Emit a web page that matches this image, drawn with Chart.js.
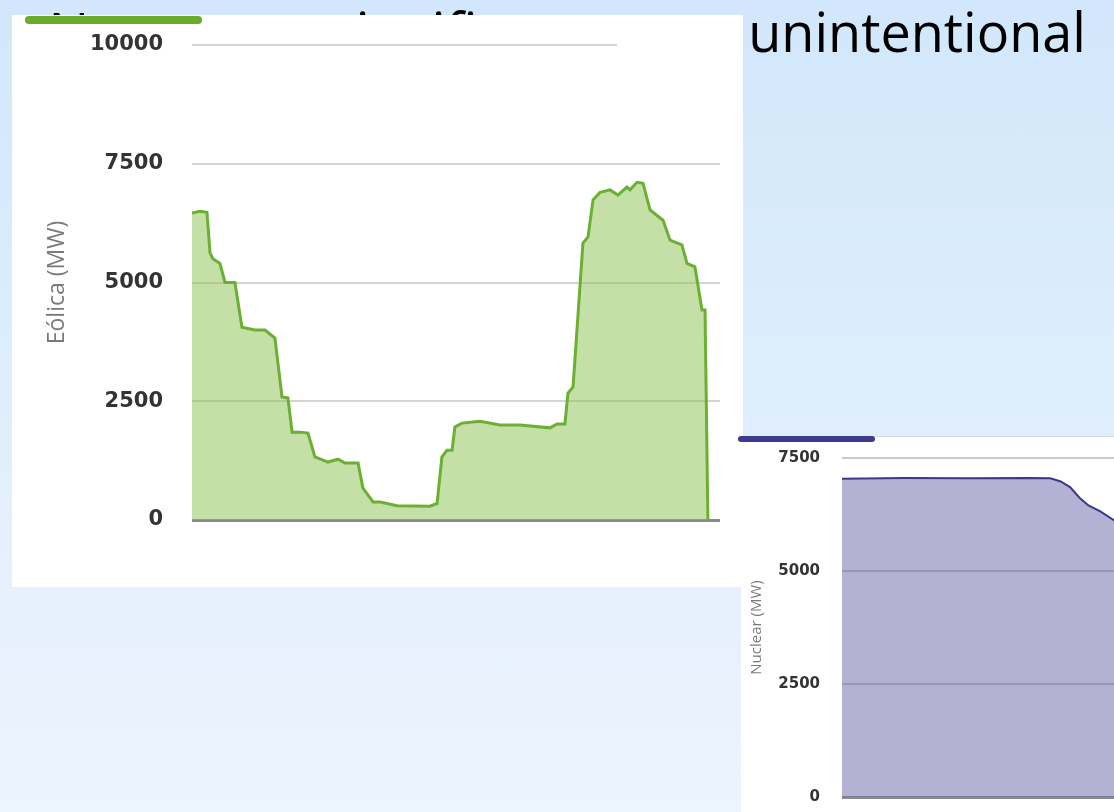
<!DOCTYPE html>
<html>
<head>
<meta charset="utf-8">
<script src="https://cdn.jsdelivr.net/npm/chart.js@4/dist/chart.umd.min.js"></script>
<style>
  body {
    margin: 0;
    width: 1114px;
    height: 812px;
    overflow: hidden;
    position: relative;
    font-family: "Open Sans", sans-serif;
    background: linear-gradient(180deg, #d2e7fb 0%, #daecfc 35%, #e4f0fd 65%, #edf4fd 100%);
  }
  .title {
    position: absolute;
    right: 28px;
    top: 4px;
    font-size: 54px;
    line-height: 1;
    white-space: nowrap;
    color: #000;
  }
  .panel { position: absolute; background: #fff; }
  #eolicaPanel { left: 12px; top: 15px; width: 731px; height: 572px; }
  #nuclearPanel { left: 741px; top: 436px; width: 620px; height: 376px; border-top: 1px solid #d6dbe2; }
  .bar { position: absolute; border-radius: 4px; }
  canvas { display: block; }
</style>
</head>
<body>
<div class="title">Numerous significant, even unintentional</div>

<div class="panel" id="eolicaPanel">
  <canvas id="eolicaChart" width="731" height="572"></canvas>
</div>
<div class="bar" style="left:25px; top:16px; width:177px; height:8px; background:#6aab2b;"></div>

<div class="panel" id="nuclearPanel">
  <canvas id="nuclearChart" width="620" height="375"></canvas>
</div>
<div class="bar" style="left:738px; top:436px; width:137px; height:6px; background:#3c3a8c;"></div>

<script>
// Eólica (wind) generation, hour of day vs MW
const eolicaHours = [0, 0.36, 0.68, 0.82, 0.95, 1.27, 1.5, 1.95, 2.27, 2.86, 3.32, 3.77, 4.09, 4.36, 4.55, 4.91,
  5.27, 5.59, 6.18, 6.64, 6.95, 7.55, 7.77, 8.23, 8.55, 9.32, 10.82, 11.14, 11.36, 11.59, 11.82, 11.95,
  12.27, 13.09, 14.0, 14.91, 16.27, 16.59, 16.95, 17.09, 17.32, 17.77, 18.0, 18.23, 18.55, 19.0, 19.36,
  19.77, 19.91, 20.23, 20.5, 20.82, 21.41, 21.73, 22.27, 22.5, 22.86, 23.18, 23.32, 23.45];
const eolicaMW = [6460, 6500, 6480, 5620, 5500, 5400, 5000, 5000, 4060, 4000, 4000, 3830, 2590, 2570, 1850, 1850,
  1830, 1330, 1220, 1280, 1200, 1200, 670, 380, 380, 300, 290, 350, 1330, 1470, 1470, 1960,
  2040, 2080, 2000, 2000, 1940, 2020, 2020, 2670, 2800, 5830, 5960, 6740, 6900, 6950, 6840,
  7010, 6950, 7110, 7090, 6530, 6310, 5890, 5790, 5400, 5330, 4420, 4420, 0];
const eolicaTicks = [0, 2500, 5000, 7500, 10000];

// Nuclear generation (only the left part is visible)
const nuclearHours = [0, 3, 6, 9, 10.0, 10.5, 10.96, 11.4, 11.83, 12.4, 13.0, 13.1];
const nuclearMW = [7040, 7060, 7050, 7060, 7050, 6980, 6850, 6620, 6450, 6320, 6140, 6110];
const nuclearTicks = [0, 2500, 5000, 7500];

function toPoints(xs, ys) {
  return xs.map((x, i) => ({ x: x, y: ys[i] }));
}

// the top grid line of the wind chart is cut short in the original
const shortTopLine = {
  id: 'shortTopLine',
  beforeDatasetsDraw(chart, args, o) {
    if (!o.share) return;
    const y = chart.scales.y;
    const top = y.getPixelForValue(y.max);
    const a = chart.chartArea;
    const c = chart.ctx;
    c.save();
    c.strokeStyle = o.color;
    c.lineWidth = 2;
    c.beginPath();
    c.moveTo(a.left, top);
    c.lineTo(a.left + (a.right - a.left) * o.share, top);
    c.stroke();
    c.restore();
  }
};

function areaChart(id, opts) {
  const ctx = document.getElementById(id).getContext('2d');
  return new Chart(ctx, {
    type: 'line',
    data: {
      datasets: [{
        data: toPoints(opts.hours, opts.values),
        borderColor: opts.line,
        borderWidth: opts.lineWidth,
        backgroundColor: opts.fill,
        fill: 'origin',
        tension: 0,
        pointRadius: 0
      }]
    },
    plugins: [shortTopLine],
    options: {
      responsive: false,
      animation: false,
      layout: { padding: opts.padding },
      plugins: {
        legend: { display: false },
        tooltip: { enabled: false },
        shortTopLine: { share: opts.topLineShare, color: opts.gridColor }
      },
      scales: {
        x: { type: 'linear', min: 0, max: 24, display: false },
        y: {
          min: 0,
          max: opts.max,
          afterFit: s => { s.width = opts.axisWidth; },
          afterBuildTicks: s => { s.ticks = opts.ticks.map(v => ({ value: v })); },
          border: { display: false },
          grid: {
            // invisible tick marks just push the labels away from the plot
            drawTicks: true,
            tickLength: opts.labelGap,
            tickColor: 'rgba(0,0,0,0)',
            color: c => {
              if (!c.tick) return opts.gridColor;
              if (c.tick.value === 0) return '#8a8a8a';
              if (opts.topLineShare && c.tick.value === opts.max) return 'rgba(0,0,0,0)';
              return opts.gridColor;
            },
            lineWidth: c => c.tick && c.tick.value === 0 ? 3 : 2
          },
          ticks: {
            padding: 3,
            color: '#333',
            font: { family: 'DejaVu Sans', weight: 'bold', size: opts.tickSize },
            callback: v => String(v)
          },
          title: {
            display: true,
            text: opts.title,
            color: '#7a7a7a',
            font: { family: 'Open Sans', size: opts.titleSize },
            padding: { top: opts.titlePad, bottom: 0 }
          }
        }
      }
    }
  });
}

areaChart('eolicaChart', {
  hours: eolicaHours, values: eolicaMW, ticks: eolicaTicks, max: 10000,
  line: '#6cb033', lineWidth: 3, fill: 'rgba(139,193,77,0.5)', gridColor: '#d4d4d4',
  padding: { top: 30, right: 23, bottom: 67, left: 0 },
  axisWidth: 180, labelGap: 26, tickSize: 21, topLineShare: 0.805,
  title: 'Eólica (MW)', titleSize: 23, titlePad: 32
});

areaChart('nuclearChart', {
  hours: nuclearHours, values: nuclearMW, ticks: nuclearTicks, max: 7500,
  line: '#3b3987', lineWidth: 2, fill: 'rgba(103,99,169,0.5)', gridColor: '#c9c9c9',
  padding: { top: 21, right: 19, bottom: 15, left: 0 },
  axisWidth: 101, labelGap: 19, tickSize: 15, topLineShare: 0,
  title: 'Nuclear (MW)', titleSize: 15, titlePad: 7
});
</script>
</body>
</html>
